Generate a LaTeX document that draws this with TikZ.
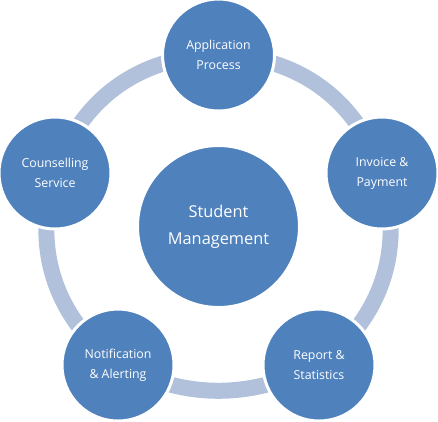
\documentclass[tikz,border=0pt]{standalone}
\usepackage{fontspec}
\setmainfont{Open Sans}
\usetikzlibrary{backgrounds}
\definecolor{cblue}{RGB}{79,129,189}
\definecolor{cring}{RGB}{177,193,219}
\begin{document}
\begin{tikzpicture}[x=1bp,y=1bp,
  stage/.style={circle, fill=cblue, draw=white, line width=3bp, minimum size=112bp,
    inner sep=0pt, align=center, text=white, font=\fontsize{12.4}{20}\selectfont},
  hub/.style={stage, minimum size=162bp, font=\fontsize{16.4}{27}\selectfont},
  link/.style={draw=cring, line width=16bp}]
\useasboundingbox (0,0) rectangle (438,-421);
\node[hub] (sm) at (218.5,-226.5) {Student\\Management};
\node[stage] (ap) at (218.5,-55) {Application\\Process};
\node[stage] (ip) at (382,-173) {Invoice \&\\Payment};
\node[stage] (rs) at (319,-365) {Report \&\\Statistics};
\node[stage] (na) at (118,-365) {Notification\\\& Alerting};
\node[stage] (cs) at (55,-173) {Counselling\\Service};
\begin{pgfonlayer}{background}
\draw[link] (ap.center) to[bend left=35] (ip.center);
\draw[link] (ip.center) to[bend left=35] (rs.center);
\draw[link] (rs.center) to[bend left=26] (na.center);
\draw[link] (na.center) to[bend left=35] (cs.center);
\draw[link] (cs.center) to[bend left=35] (ap.center);
\end{pgfonlayer}
\end{tikzpicture}
\end{document}
